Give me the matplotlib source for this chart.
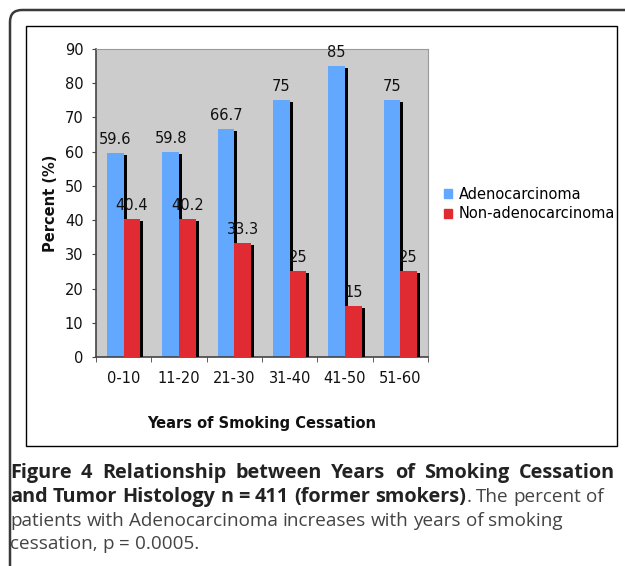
import numpy as np
import matplotlib; matplotlib.use("Agg"); import matplotlib.pyplot as plt
from matplotlib.patches import FancyBboxPatch, Rectangle, Patch
import matplotlib.patheffects as pe

cats = ["0-10", "11-20", "21-30", "31-40", "41-50", "51-60"]
adeno = [59.6, 59.8, 66.7, 75, 85, 75]
non_adeno = [40.4, 40.2, 33.3, 25, 15, 25]
adeno_lbl = ["59.6", "59.8", "66.7", "75", "85", "75"]
non_lbl = ["40.4", "40.2", "33.3", "25", "15", "25"]
series = ["Adenocarcinoma", "Non-adenocarcinoma"]
colors = ["#62a8ff", "#e02b33"]

W, H = 625, 566
fig = plt.figure(figsize=(W/100, H/100), dpi=100)

# frame layer in pixel coords (y down)
bg = fig.add_axes([0, 0, 1, 1], zorder=-5); bg.set_xlim(0, W); bg.set_ylim(H, 0); bg.axis("off")
bg.add_patch(FancyBboxPatch((10, 10), 660, 600, boxstyle="round,pad=0,rounding_size=12",
                            fc="white", ec="#3a3a3a", lw=1.8))
bg.add_patch(Rectangle((26, 26), 591, 420, fc="white", ec="black", lw=1.0))

def fx(px): return px / W
def fy(py): return 1 - py / H
fs = 10.5
ax = fig.add_axes([fx(96), fy(357), fx(428) - fx(96), fy(49) - fy(357)])
ax.set_facecolor("#cccccc")
x = np.arange(len(cats)); bw = 0.3
shadow = [pe.SimplePatchShadow(offset=(2.2, -1.4), shadow_rgbFace="black", alpha=1.0), pe.Normal()]
b1 = ax.bar(x - bw/2, adeno, bw, color=colors[0], zorder=2)
b2 = ax.bar(x + bw/2, non_adeno, bw, color=colors[1], zorder=3)
for b in list(b1) + list(b2):
    b.set_path_effects(shadow)
for i in range(len(cats)):
    ax.text(x[i] - bw/2, adeno[i] + 1.8, adeno_lbl[i], ha="center", va="bottom", fontsize=fs, color="#111111", zorder=5)
    ax.text(x[i] + bw/2, non_adeno[i] + 1.8, non_lbl[i], ha="center", va="bottom", fontsize=fs, color="#111111", zorder=5)
ax.set_xlim(-0.5, len(cats) - 0.5); ax.set_ylim(0, 90)
ax.set_yticks(np.arange(0, 91, 10))
ax.set_xticks(x); ax.set_xticklabels(cats)
ax.set_xticks(np.arange(-0.5, len(cats)), minor=True)
ax.tick_params(axis="x", which="major", length=0, pad=10, labelsize=fs, labelcolor="#111111")
ax.tick_params(axis="x", which="minor", length=3.6, direction="out", color="#444444")
ax.tick_params(axis="y", length=3, labelsize=fs, pad=6, color="#444444", labelcolor="#111111")
for s in ["top", "right"]: ax.spines[s].set_color("#999999")
for s in ["left", "bottom"]: ax.spines[s].set_color("#444444"); ax.spines[s].set_linewidth(1.2)
ax.set_ylabel("Percent (%)", fontsize=fs, fontweight="bold", labelpad=5, color="#111111")
ax.set_xlabel("Years of Smoking Cessation", fontsize=fs, fontweight="bold", labelpad=22, color="#111111")
handles = [Patch(color=c, label=s) for c, s in zip(colors, series)]
fig.legend(handles=handles, loc="center left", bbox_to_anchor=(fx(444), fy(204)), frameon=False,
           fontsize=fs, handlelength=0.55, handleheight=0.55, handletextpad=0.45, labelspacing=0.32,
           borderpad=0, borderaxespad=0)

# caption
fonts = {"bold": ("Open Sans", 14.3), "normal": ("Open Sans", 13.6)}
dark = "#222222"; grey = "#444444"
fig.canvas.draw(); r = fig.canvas.get_renderer()

def mk(xp, y, s, weight, col="black"):
    fam, size = fonts[weight]
    return fig.text(fx(xp), fy(y), s, fontsize=size, family=fam, fontweight=weight, color=col, va="baseline")

def width(s, weight):
    t = mk(0, 0, s, weight)
    w = t.get_window_extent(r).width; t.remove(); return w

def line(pieces, y, justify_to=None):
    # pieces: list of (text, weight, color); spaces inside texts split words
    words = []
    for txt, wt, col in pieces:
        for k, wd in enumerate(txt.split(" ")):
            if wd == "": continue
            if k == 0 and words and not txt.startswith(" "):
                words[-1].append((wd, wt, col))
            else:
                words.append([(wd, wt, col)])
    widths = [[width(p[0], p[1]) for p in w] for w in words]
    tot = sum(sum(w) for w in widths)
    gaps = [width("a a", words[i + 1][0][1]) - width("aa", words[i + 1][0][1]) for i in range(len(words) - 1)]
    if justify_to is not None and len(words) > 1:
        g = (justify_to - 10 - tot) / (len(words) - 1)
        gaps = [g] * len(gaps)
    xp = 10
    for i, (w, ws) in enumerate(zip(words, widths)):
        for (txt, wt, col), pw in zip(w, ws):
            mk(xp, y, txt, wt, col)
            xp += pw
        if i < len(gaps): xp += gaps[i]

line([("Figure 4 Relationship between Years of Smoking Cessation", "bold", dark)], 478, justify_to=615)
line([("and Tumor Histology n = 411 (former smokers)", "bold", dark), (". The percent of", "normal", grey)], 502)
line([("patients with Adenocarcinoma increases with years of smoking", "normal", grey)], 526)
line([("cessation, p = 0.0005.", "normal", grey)], 549)

fig.savefig("out.png", dpi=100)
